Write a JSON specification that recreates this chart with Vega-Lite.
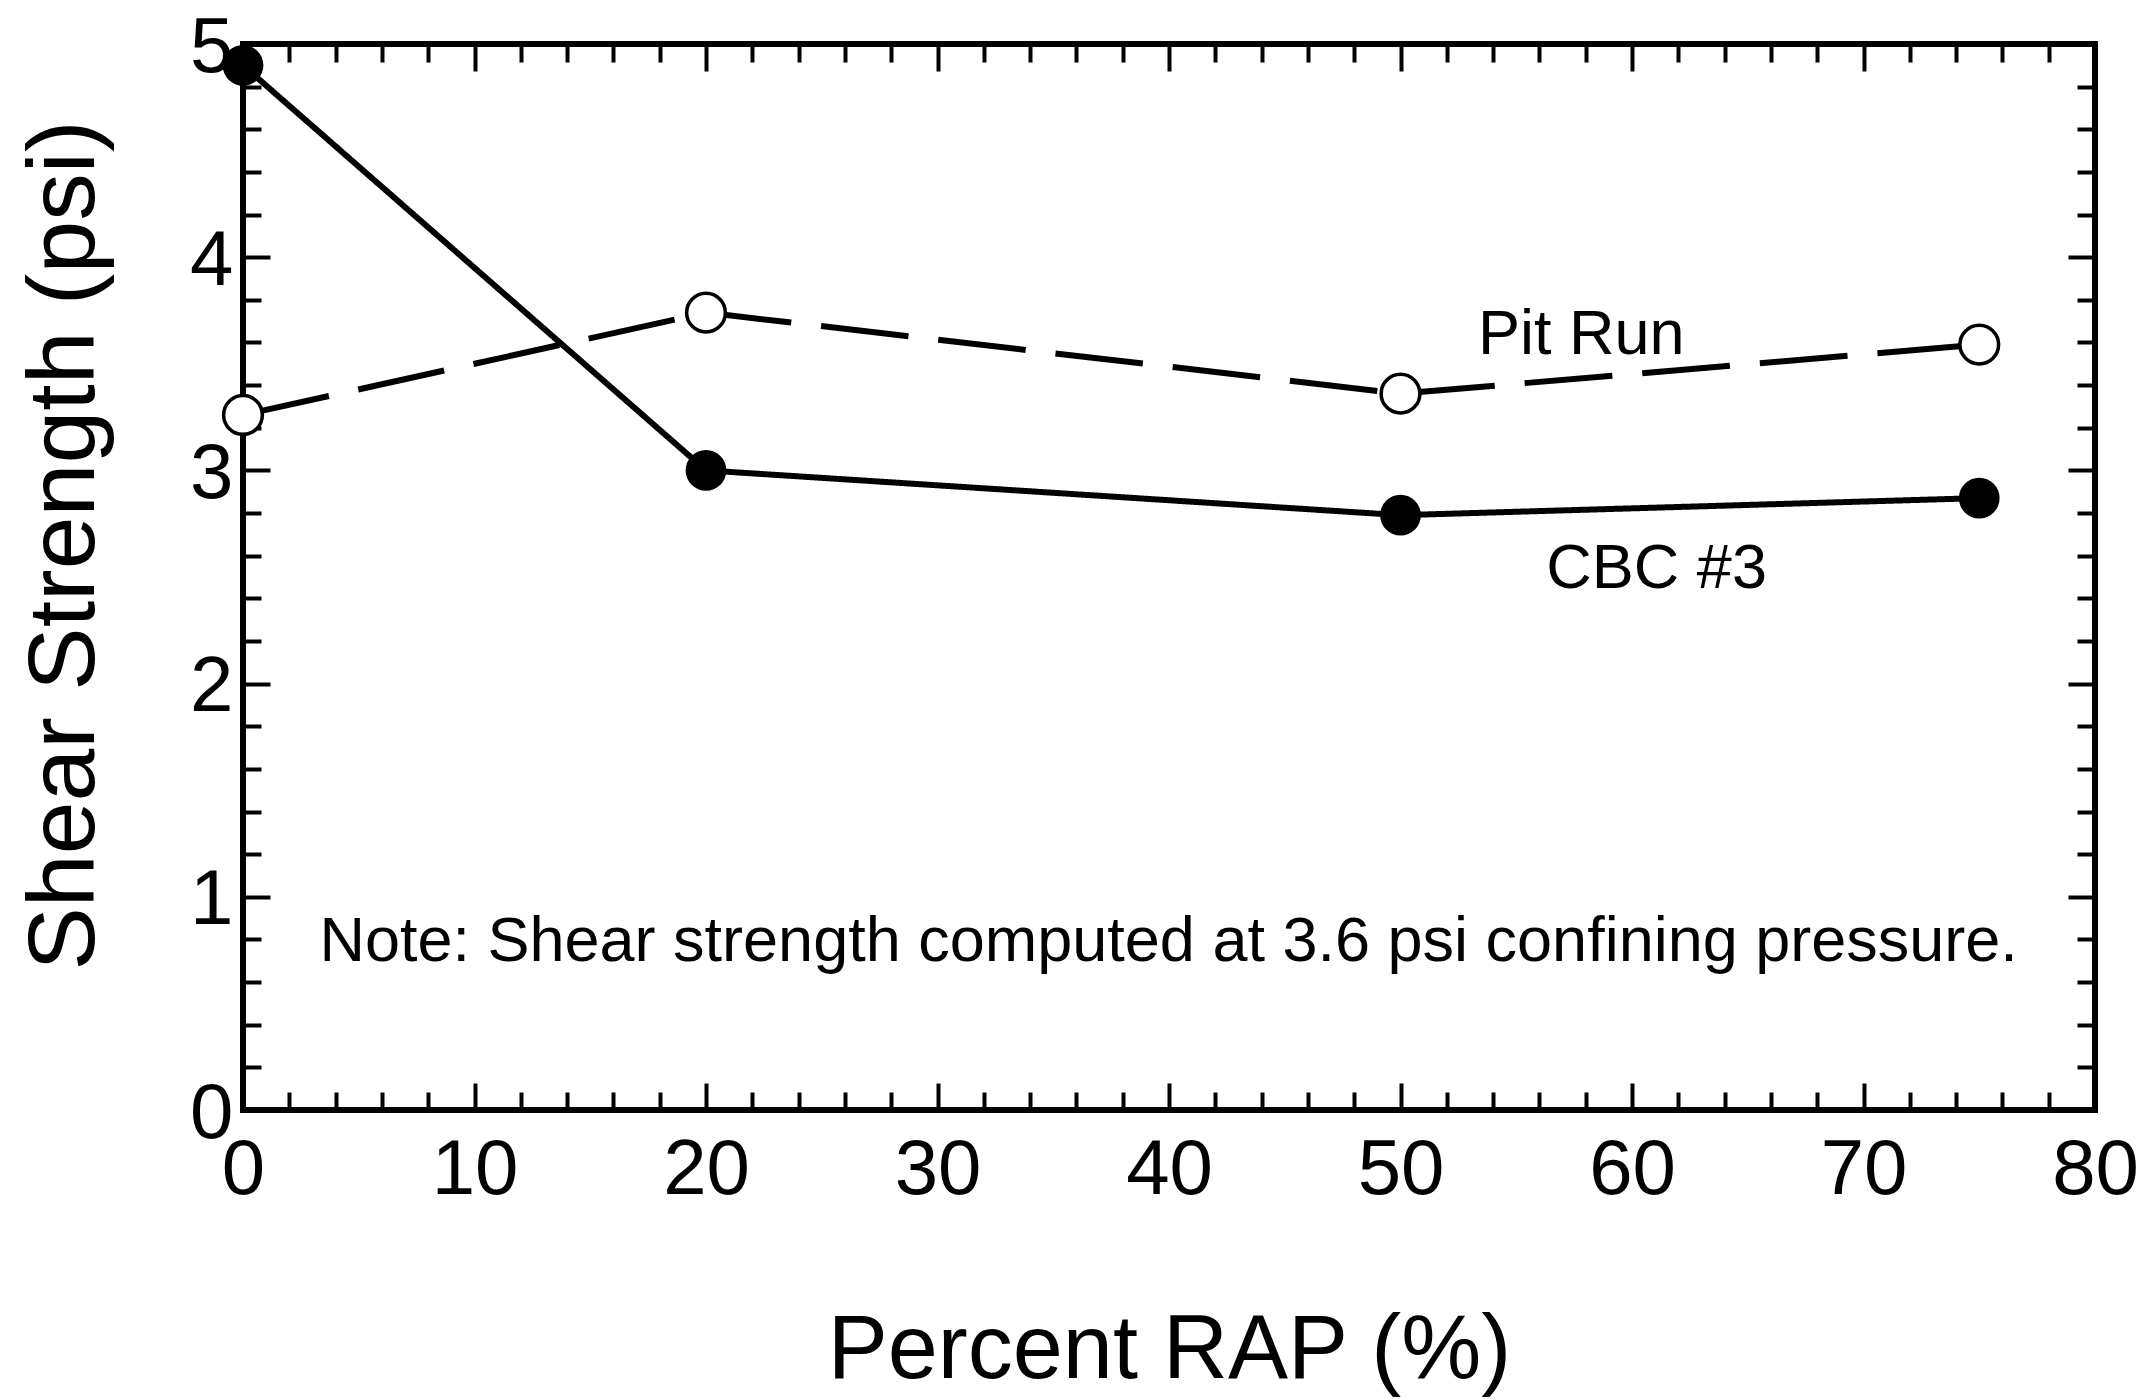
{
  "$schema": "https://vega.github.io/schema/vega-lite/v6.json",
  "width": 1852,
  "height": 1066,
  "autosize": {"type": "none"},
  "padding": {"left": 243, "top": 44, "right": 54, "bottom": 289},
  "background": "white",
  "config": {
    "view": {"stroke": "black", "strokeWidth": 6},
    "axis": {
      "domain": false,
      "grid": false,
      "tickColor": "black",
      "tickWidth": 4,
      "labelColor": "black",
      "titleColor": "black",
      "labelFont": "Liberation Sans",
      "titleFont": "Liberation Sans",
      "labelFontWeight": "normal",
      "titleFontWeight": "normal"
    }
  },
  "datasets": {
    "series": [
      {"pct": 0, "shear": 4.9, "series": "CBC #3"},
      {"pct": 20, "shear": 3.0, "series": "CBC #3"},
      {"pct": 50, "shear": 2.79, "series": "CBC #3"},
      {"pct": 75, "shear": 2.87, "series": "CBC #3"},
      {"pct": 0, "shear": 3.26, "series": "Pit Run"},
      {"pct": 20, "shear": 3.74, "series": "Pit Run"},
      {"pct": 50, "shear": 3.36, "series": "Pit Run"},
      {"pct": 75, "shear": 3.59, "series": "Pit Run"}
    ],
    "labels": [
      {"pct": 53.35, "shear": 3.545, "label": "Pit Run"},
      {"pct": 56.3, "shear": 2.45, "label": "CBC #3"},
      {"pct": 3.3, "shear": 0.70, "label": "Note: Shear strength computed at 3.6 psi confining pressure."}
    ]
  },
  "resolve": {"axis": {"x": "independent", "y": "independent"}},
  "layer": [
    {
      "data": {"name": "series"},
      "mark": {"type": "line", "strokeWidth": 6, "color": "black"},
      "encoding": {
        "x": {
          "field": "pct", "type": "quantitative",
          "scale": {"domain": [0, 80], "nice": false, "zero": false},
          "axis": {
            "orient": "bottom",
            "values": [0, 10, 20, 30, 40, 50, 60, 70, 80],
            "tickSize": -27,
            "labelFontSize": 78,
            "labelPadding": 110,
            "labelBaseline": "alphabetic",
            "labelFlush": false,
            "labelOverlap": false,
            "title": "Percent RAP (%)",
            "titleFontSize": 90,
            "titleX": 926,
            "titleY": 267,
            "titleAlign": "center",
            "titleBaseline": "alphabetic"
          }
        },
        "y": {
          "field": "shear", "type": "quantitative",
          "scale": {"domain": [0, 5], "nice": false, "zero": false},
          "axis": {
            "orient": "left",
            "values": [0, 1, 2, 3, 4, 5],
            "tickSize": -27,
            "labelFontSize": 78,
            "labelPadding": 37,
            "labelBaseline": "middle",
            "labelOffset": 4,
            "labelFlush": false,
            "labelOverlap": false,
            "title": "Shear Strength (psi)",
            "titleFontSize": 95,
            "titleAngle": 270,
            "titleX": -150,
            "titleY": 501,
            "titleAlign": "center",
            "titleBaseline": "alphabetic"
          }
        },
        "strokeDash": {
          "field": "series", "type": "nominal",
          "scale": {"domain": ["CBC #3", "Pit Run"], "range": [[1, 0], [88, 30]]},
          "legend": null
        }
      }
    },
    {
      "data": {"name": "series"},
      "transform": [{"filter": "datum.series === 'CBC #3'"}],
      "mark": {"type": "point", "shape": "circle", "filled": true, "color": "black", "size": 1660, "opacity": 1},
      "encoding": {
        "x": {
          "field": "pct", "type": "quantitative",
          "scale": {"domain": [0, 80], "nice": false, "zero": false},
          "axis": {"orient": "top", "values": [0, 10, 20, 30, 40, 50, 60, 70, 80], "tickSize": -27, "labels": false, "title": null}
        },
        "y": {
          "field": "shear", "type": "quantitative",
          "scale": {"domain": [0, 5], "nice": false, "zero": false},
          "axis": {"orient": "right", "values": [0, 1, 2, 3, 4, 5], "tickSize": -27, "labels": false, "title": null}
        }
      }
    },
    {
      "data": {"name": "series"},
      "transform": [{"filter": "datum.series === 'Pit Run'"}],
      "mark": {"type": "point", "shape": "circle", "filled": true, "fill": "white", "stroke": "black", "strokeWidth": 3.5, "size": 1500, "opacity": 1},
      "encoding": {
        "x": {
          "field": "pct", "type": "quantitative",
          "scale": {"domain": [0, 80], "nice": false, "zero": false},
          "axis": {"orient": "bottom", "values": [2, 4, 6, 8, 12, 14, 16, 18, 22, 24, 26, 28, 32, 34, 36, 38, 42, 44, 46, 48, 52, 54, 56, 58, 62, 64, 66, 68, 72, 74, 76, 78], "tickSize": -18, "labels": false, "title": null}
        },
        "y": {
          "field": "shear", "type": "quantitative",
          "scale": {"domain": [0, 5], "nice": false, "zero": false},
          "axis": {"orient": "left", "values": [0.2, 0.4, 0.6, 0.8, 1.2, 1.4, 1.6, 1.8, 2.2, 2.4, 2.6, 2.8, 3.2, 3.4, 3.6, 3.8, 4.2, 4.4, 4.6, 4.8], "tickSize": -18, "labels": false, "title": null}
        }
      }
    },
    {
      "data": {"name": "labels"},
      "mark": {"type": "text", "font": "Liberation Sans", "fontSize": 63, "align": "left", "baseline": "alphabetic", "color": "black"},
      "encoding": {
        "x": {
          "field": "pct", "type": "quantitative",
          "scale": {"domain": [0, 80], "nice": false, "zero": false},
          "axis": {"orient": "top", "values": [2, 4, 6, 8, 12, 14, 16, 18, 22, 24, 26, 28, 32, 34, 36, 38, 42, 44, 46, 48, 52, 54, 56, 58, 62, 64, 66, 68, 72, 74, 76, 78], "tickSize": -18, "labels": false, "title": null}
        },
        "y": {
          "field": "shear", "type": "quantitative",
          "scale": {"domain": [0, 5], "nice": false, "zero": false},
          "axis": {"orient": "right", "values": [0.2, 0.4, 0.6, 0.8, 1.2, 1.4, 1.6, 1.8, 2.2, 2.4, 2.6, 2.8, 3.2, 3.4, 3.6, 3.8, 4.2, 4.4, 4.6, 4.8], "tickSize": -18, "labels": false, "title": null}
        },
        "text": {"field": "label", "type": "nominal"}
      }
    }
  ]
}
